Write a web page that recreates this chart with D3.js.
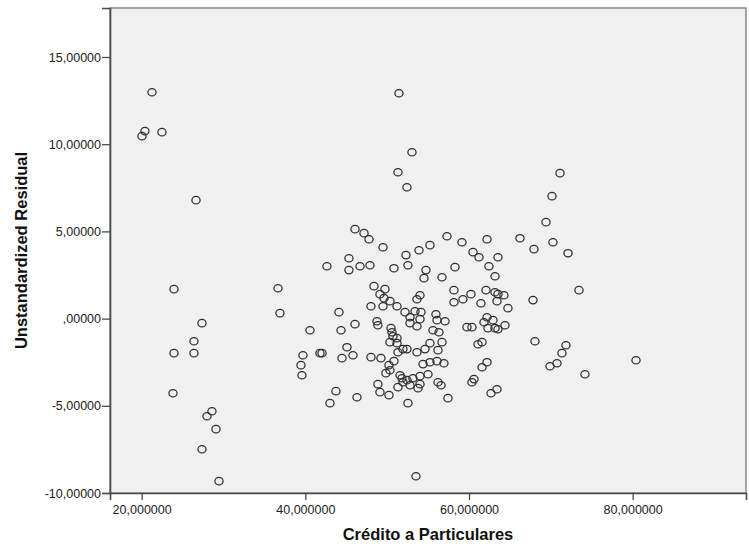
<!DOCTYPE html>
<html>
<head>
<meta charset="utf-8">
<script src="https://cdn.jsdelivr.net/npm/d3@7"></script>
<style>
  html, body { margin: 0; padding: 0; background: #ffffff; }
  svg { display: block; }
</style>
</head>
<body>
<svg id="chart" width="749" height="550"></svg>
<script>
// ---- Data ----
const creditoParticulares = [
  21.26, 20.40, 20.04, 22.48, 26.64, 23.95, 27.37, 26.39, 23.95, 26.39,
  23.83, 28.59, 27.98, 29.08, 27.37, 29.45, 36.66, 36.90, 40.57, 39.71,
  39.47, 39.59, 41.79, 42.04, 42.64, 45.33, 45.33, 46.68, 44.11, 44.36,
  46.07, 45.09, 44.48, 45.82, 43.74, 43.01, 46.31, 46.07, 47.17, 47.78,
  51.44, 53.03, 51.32, 52.42, 71.12, 70.14, 69.41, 70.26, 72.10, 66.23,
  67.94, 62.20, 57.31, 59.14, 60.49, 61.22, 63.54, 55.23, 53.89, 52.30,
  49.49, 47.90, 50.83, 52.54, 54.74, 54.50, 56.70, 58.29, 62.44, 63.18,
  48.39, 49.73, 49.12, 49.61, 50.34, 51.20, 49.49, 48.02, 54.01, 53.64,
  52.18, 53.40, 54.13, 52.79, 54.01, 55.96, 56.09, 58.16, 58.16, 59.26,
  60.24, 61.46, 62.08, 63.18, 63.42, 48.75, 62.20, 62.93, 57.07, 48.87,
  50.47, 50.59, 50.71, 51.20, 50.34, 51.20, 51.93, 52.42, 51.32, 50.83,
  50.22, 50.34, 49.85, 48.02, 49.24, 53.64, 54.62, 55.23, 56.21, 56.70,
  55.60, 56.33, 52.79, 53.64, 59.75, 60.36, 61.83, 62.32, 63.18, 61.10,
  61.59, 54.38, 55.23, 56.09, 56.94, 54.99, 54.01, 53.15, 52.42, 51.81,
  51.57, 51.93, 51.32, 52.79, 53.77, 54.01, 56.21, 56.58, 48.87, 49.12,
  50.22, 52.54, 57.43, 60.36, 60.61, 61.59, 62.20, 62.69, 63.42, 53.52,
  64.27, 64.76, 64.40, 63.54, 67.82, 68.06, 73.44, 71.85, 71.36, 70.75,
  69.90, 74.17, 80.41, 63.54
];
const unstandardizedResidual = [
  12.98, 10.75, 10.46, 10.69, 6.79, 1.69, -0.26, -1.30, -1.98, -1.98,
  -4.28, -5.31, -5.60, -6.34, -7.49, -9.32, 1.74, 0.31, -0.67, -2.10,
  -2.67, -3.25, -1.98, -1.98, 3.00, 3.46, 2.78, 3.00, 0.37, -0.67,
  -0.32, -1.64, -2.27, -2.10, -4.16, -4.85, -4.51, 5.13, 4.90, 4.55,
  12.92, 9.54, 8.39, 7.53, 8.34, 7.02, 5.53, 4.38, 3.75, 4.61,
  3.98, 4.55, 4.72, 4.38, 3.81, 3.52, 3.52, 4.21, 3.92, 3.64,
  4.09, 3.06, 2.89, 3.06, 2.78, 2.32, 2.37, 2.95, 3.00, 2.43,
  1.86, 1.69, 1.40, 1.17, 1.00, 0.71, 0.71, 0.71, 1.34, 1.11,
  0.37, 0.42, 0.37, 0.08, -0.03, 0.25, -0.09, 1.63, 0.94, 1.11,
  1.40, 0.88, 1.63, 1.51, 1.00, -0.15, 0.08, -0.09, -0.15, -0.38,
  -0.55, -0.78, -1.01, -1.12, -1.35, -1.41, -1.75, -1.75, -1.93, -2.44,
  -2.67, -2.96, -3.13, -2.21, -2.27, -1.93, -1.75, -1.41, -1.81, -1.35,
  -0.67, -0.78, -0.26, -0.44, -0.49, -0.49, -0.21, -0.55, -0.55, -1.47,
  -1.35, -2.61, -2.50, -2.44, -2.56, -3.19, -3.30, -3.42, -3.53, -3.42,
  -3.25, -3.65, -3.93, -3.82, -3.99, -3.76, -3.65, -3.82, -3.76, -4.22,
  -4.39, -4.85, -4.56, -3.65, -3.47, -2.79, -2.50, -4.28, -4.05, -9.04,
  1.34, 0.60, -0.38, -0.61, 1.06, -1.30, 1.63, -1.53, -1.98, -2.56,
  -2.73, -3.19, -2.39, 1.40
];
const xTicks = [20, 40, 60, 80];
const xTickLabels = ["20,000000", "40,000000", "60,000000", "80,000000"];
const yTicks = [-10, -5, 0, 5, 10, 15];
const yTickLabels = ["-10,00000", "-5,00000", ",00000", "5,00000", "10,00000", "15,00000"];
const xTitle = "Crédito a Particulares";
const yTitle = "Unstandardized Residual";

// ---- Layout ----
const svg = d3.select("#chart");
const mLeft = 110, mRight = 746, mTop = 8, mBottom = 493;

const x = d3.scaleLinear().domain([16.13, 93.85]).range([mLeft, mRight]);
const y = d3.scaleLinear().domain([-10, 17.81]).range([mBottom, mTop]);

// plot background frame
svg.append("rect")
  .attr("x", mLeft).attr("y", mTop)
  .attr("width", mRight - mLeft).attr("height", mBottom - mTop)
  .attr("fill", "#f0f0f0")
  .attr("stroke", "#8a8a8a")
  .attr("stroke-width", 1.5);

const font = "'Liberation Sans', Arial, sans-serif";

// x axis
const xAxis = d3.axisBottom(x)
  .tickValues(xTicks)
  .tickSize(7)
  .tickFormat((d, i) => xTickLabels[i]);
const gx = svg.append("g").attr("transform", `translate(0,${mBottom})`).call(xAxis);
gx.select(".domain").attr("stroke", "#4a4a4a").attr("stroke-width", 1.6);
gx.selectAll(".tick line").attr("stroke", "#4a4a4a").attr("stroke-width", 1.3);
gx.selectAll(".tick text")
  .attr("font-family", font).attr("font-size", 12.5).attr("fill", "#222")
  .attr("dy", "0.9em");

// y axis
const yAxis = d3.axisLeft(y)
  .tickValues(yTicks)
  .tickSize(8)
  .tickFormat((d, i) => yTickLabels[i]);
const gy = svg.append("g").attr("transform", `translate(${mLeft},0)`).call(yAxis);
gy.select(".domain").attr("stroke", "#4a4a4a").attr("stroke-width", 1.6);
gy.selectAll(".tick line").attr("stroke", "#4a4a4a").attr("stroke-width", 1.3);
gy.selectAll(".tick text")
  .attr("font-family", font).attr("font-size", 12.5).attr("fill", "#222")
  .attr("x", -9);

// axis titles
svg.append("text")
  .attr("x", (mLeft + mRight) / 2).attr("y", 540)
  .attr("text-anchor", "middle")
  .attr("font-family", font).attr("font-weight", "bold").attr("font-size", 16.5)
  .attr("fill", "#111")
  .text(xTitle);

svg.append("text")
  .attr("transform", `translate(27,${(mTop + mBottom) / 2}) rotate(-90)`)
  .attr("text-anchor", "middle")
  .attr("font-family", font).attr("font-weight", "bold").attr("font-size", 16.5)
  .attr("fill", "#111")
  .text(yTitle);

// points
const pts = creditoParticulares.map((v, i) => ({ x: v, y: unstandardizedResidual[i] }));
svg.append("g").selectAll("ellipse")
  .data(pts)
  .join("ellipse")
  .attr("cx", d => x(d.x))
  .attr("cy", d => y(d.y))
  .attr("rx", 4.1)
  .attr("ry", 3.7)
  .attr("fill", "none")
  .attr("stroke", "#2e2e2e")
  .attr("stroke-width", 1.25);
</script>
</body>
</html>
